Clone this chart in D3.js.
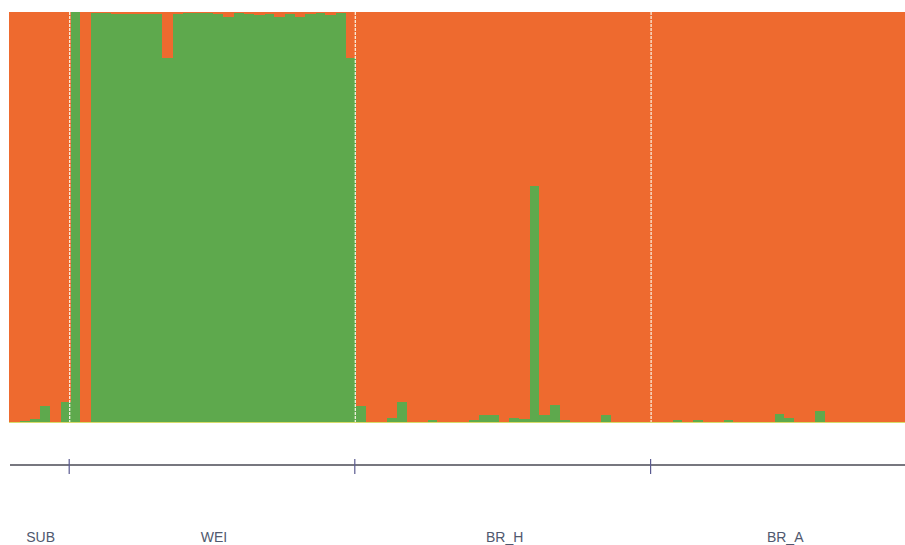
<!DOCTYPE html>
<html>
<head>
<meta charset="utf-8">
<script src="https://cdn.jsdelivr.net/npm/d3@7"></script>
<style>
  html, body { margin: 0; padding: 0; background: #ffffff; }
  svg { display: block; }
</style>
</head>
<body>
<svg id="chart" width="905" height="545"></svg>
<script>
// Populations and number of individuals per population
const populations = ["SUB", "WEI", "BR_H", "BR_A"];
const popSizes = [6, 28, 29, 26];

// Proportion of membership in the green cluster, per individual (orange = 1 - green)
const greenSUB = [0, 0.002, 0.008, 0.04, 0, 0.05];
const greenWEI = [1.0, 0, 0.997, 0.997, 0.995, 0.995, 0.995, 0.995, 0.995, 0.888,
                  0.995, 0.997, 0.997, 0.997, 0.995, 0.988, 0.997, 0.995, 0.992, 0.995,
                  0.988, 0.995, 0.988, 0.995, 0.997, 0.992, 0.997, 0.888];
const greenBRH = [0.04, 0, 0, 0.01, 0.05, 0, 0, 0.005, 0, 0,
                  0, 0.005, 0.017, 0.017, 0, 0.01, 0.008, 0.575, 0.017, 0.041,
                  0.005, 0, 0, 0, 0.017, 0, 0, 0, 0];
const greenBRA = [0, 0, 0.004, 0, 0.004, 0, 0, 0.005, 0, 0,
                  0, 0, 0.02, 0.01, 0, 0, 0.027, 0, 0, 0,
                  0, 0, 0, 0, 0, 0];

const clusterKeys = ["green", "orange"];
const clusterColors = ["#5ea94d", "#ee6a2f"];

const greenAll = [].concat(greenSUB, greenWEI, greenBRH, greenBRA);
const data = greenAll.map((g, i) => ({ idx: i, green: g, orange: 1 - g }));
const N = data.length;

const svg = d3.select("#chart");

const x = d3.scaleLinear().domain([0, N]).range([9, 916.8]);
const y = d3.scaleLinear().domain([0, 1]).range([422, 12]);
const color = d3.scaleOrdinal().domain(clusterKeys).range(clusterColors);

const stacked = d3.stack().keys(clusterKeys)(data);

svg.append("g")
  .selectAll("g")
  .data(stacked)
  .join("g")
  .attr("fill", d => color(d.key))
  .selectAll("rect")
  .data(d => d)
  .join("rect")
  .attr("shape-rendering", "crispEdges")
  .attr("x", d => x(d.data.idx))
  .attr("width", d => x(d.data.idx + 1) - x(d.data.idx) + 0.6)
  .attr("y", d => y(d[1]))
  .attr("height", d => Math.max(0, y(d[0]) - y(d[1])));

// thin yellowish baseline under the bars
svg.append("line")
  .attr("x1", x(0)).attr("x2", 905)
  .attr("y1", y(0) + 0.5).attr("y2", y(0) + 0.5)
  .attr("stroke", "#d6dc6a").attr("stroke-width", 1);

// population boundaries
const bounds = d3.cumsum(popSizes);
const starts = [0, ...bounds.slice(0, -1)];
const inner = bounds.slice(0, -1);

svg.append("g")
  .selectAll("line")
  .data(inner)
  .join("line")
  .attr("x1", d => x(d) - 0.5).attr("x2", d => x(d) - 0.5)
  .attr("y1", y(1)).attr("y2", y(0))
  .attr("stroke", "#fbf6e8").attr("stroke-width", 1.2)
  .attr("stroke-dasharray", "3,1");

// axis line with ticks at population boundaries
const axisY = 465;
svg.append("line")
  .attr("x1", 10).attr("x2", 905)
  .attr("y1", axisY).attr("y2", axisY)
  .attr("stroke", "#4a4a55").attr("stroke-width", 1.4);

svg.append("g")
  .selectAll("line")
  .data(inner)
  .join("line")
  .attr("x1", d => x(d) - 1).attr("x2", d => x(d) - 1)
  .attr("y1", 459).attr("y2", 474)
  .attr("stroke", "#5a5a90").attr("stroke-width", 1.2);

// population labels
svg.append("g")
  .selectAll("text")
  .data(populations)
  .join("text")
  .attr("x", (d, i) => (x(starts[i]) + x(bounds[i])) / 2 + 1)
  .attr("y", 542)
  .attr("text-anchor", "middle")
  .attr("font-family", "Liberation Sans, Arial, sans-serif")
  .attr("font-size", 14)
  .attr("fill", "#50586e")
  .text(d => d);
</script>
</body>
</html>
